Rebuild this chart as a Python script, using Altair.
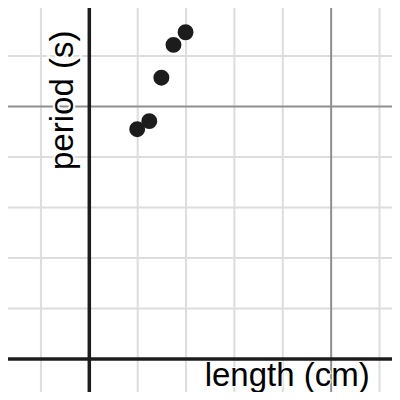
import altair as alt
import pandas as pd

# data (in grid units)
length = [0.99, 1.24, 1.49, 1.74, 1.99]
period = [4.55, 4.71, 5.57, 6.22, 6.47]

minor_x = [-1, 1, 2, 3, 4, 6]
major_x = [5]
minor_y = [1, 2, 3, 4, 6]
major_y = [5]

X_DOM = [-1.681, 6.258]
Y_DOM = [-0.653, 6.950]

xs = alt.Scale(domain=X_DOM, nice=False, zero=False)
ys = alt.Scale(domain=Y_DOM, nice=False, zero=False)

pts = pd.DataFrame({"length": length, "period": period})

def vlines(vals, color, width):
    return alt.Chart(pd.DataFrame({"v": vals})).mark_rule(color=color, strokeWidth=width).encode(
        x=alt.X("v:Q", scale=xs, axis=None))

def hlines(vals, color, width):
    return alt.Chart(pd.DataFrame({"v": vals})).mark_rule(color=color, strokeWidth=width).encode(
        y=alt.Y("v:Q", scale=ys, axis=None))

grid = (vlines(minor_x, "#dddddd", 2) + hlines(minor_y, "#dddddd", 2)
        + vlines(major_x, "#8f8f8f", 2) + hlines(major_y, "#8f8f8f", 2)
        + vlines([0], "#1c1c1c", 3.5) + hlines([0], "#1c1c1c", 3.5))

points = alt.Chart(pts).mark_circle(size=254, color="#1c1c1c", opacity=1).encode(
    x=alt.X("length:Q", scale=xs, axis=None),
    y=alt.Y("period:Q", scale=ys, axis=None),
)

FONT = "Liberation Sans"
FS = 33

def label(text, x, y, angle=0, baseline="alphabetic", halo_w=3):
    df = pd.DataFrame({"t": [text]})
    halo = alt.Chart(df).mark_text(font=FONT, fontSize=FS, angle=angle, align="center", baseline=baseline,
                                   color="white", stroke="white", strokeWidth=halo_w).encode(
        text="t:N", x=alt.value(x), y=alt.value(y))
    fg = alt.Chart(df).mark_text(font=FONT, fontSize=FS, angle=angle, align="center", baseline=baseline,
                                 color="#000000").encode(
        text="t:N", x=alt.value(x), y=alt.value(y))
    return halo + fg

ylab = label("period (s)", 54.7, 92.3, angle=270, baseline="middle", halo_w=4)
xlab = label("length (cm)", 279.2, 378, halo_w=2)

chart = (grid + points + ylab + xlab).properties(
    width=384, height=384, padding=0, autosize="none", background="white"
).configure_view(stroke=None)

chart.save("out.html", embed_options={"renderer": "svg", "actions": False})
